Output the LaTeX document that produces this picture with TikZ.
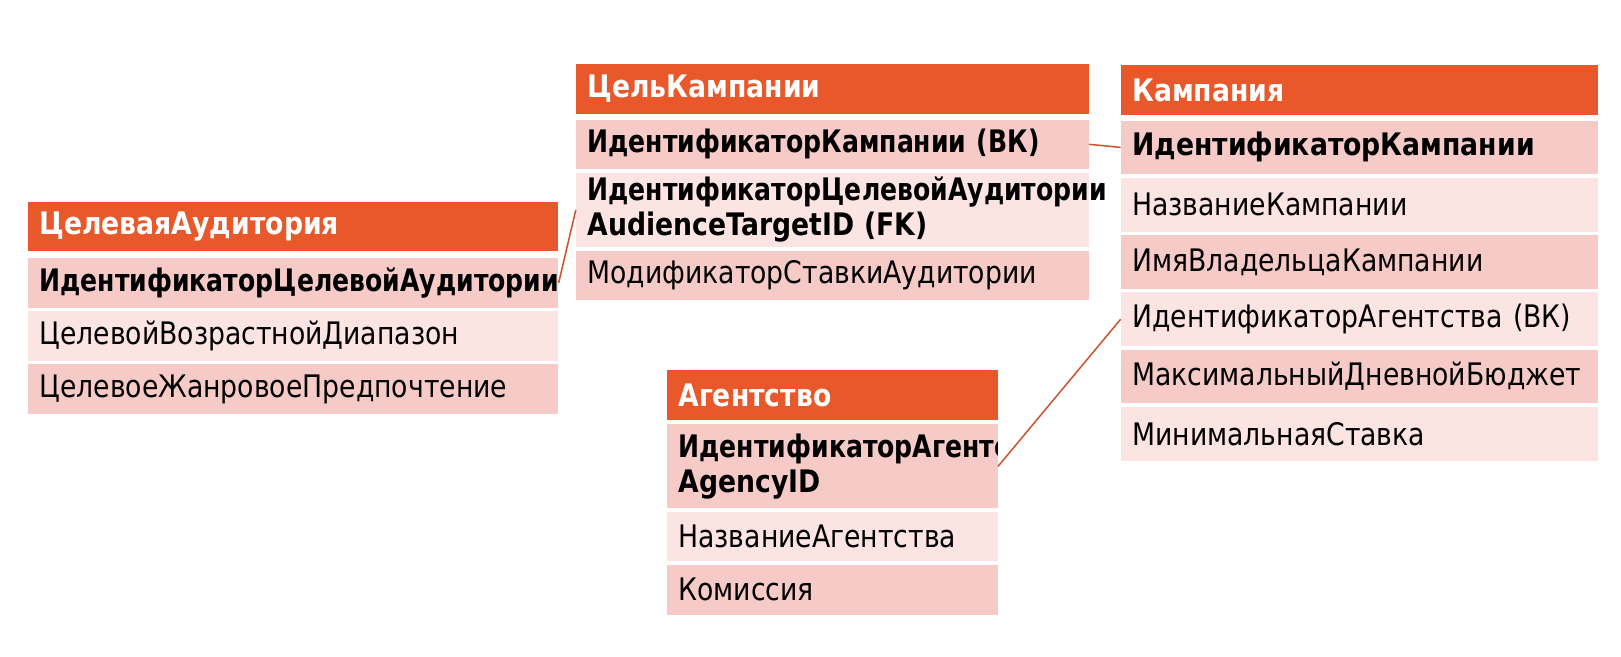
\documentclass[tikz,border=0pt]{standalone}
\usepackage{fontspec}
\setmainfont{DejaVu Sans}[FakeStretch=0.86]
\newfontfamily\narrowkey{DejaVu Sans}[FakeStretch=0.81]
\usetikzlibrary{positioning}
\definecolor{headorange}{HTML}{E8582A}
\definecolor{rowdark}{HTML}{F6CBC7}
\definecolor{rowlight}{HTML}{FBE4E2}
\definecolor{linkline}{HTML}{C9582E}
\newcommand{\fieldfont}{\fontsize{30}{34}\selectfont}
\tikzset{table head/.style={fill=headorange, text=white, font=\fieldfont\bfseries, anchor=north west, minimum height=48pt, inner xsep=11pt, inner ysep=0pt, text width=#1, align=left}}
\tikzset{field/.style={fill=rowdark, text=black, font=\fieldfont, minimum height=48pt, inner xsep=11pt, inner ysep=0pt, text width=#1, align=left}}
\tikzset{light/.style={fill=rowlight}}
\tikzset{key/.style={font=\fieldfont\bfseries}}
\tikzset{narrow key/.style={font=\fieldfont\narrowkey\bfseries}}
\tikzset{relation/.style={draw=linkline, line width=1.5pt}}

\begin{document}
\begin{tikzpicture}[x=1pt, y=1pt]
            \useasboundingbox (0, 0) rectangle (1568, -635);
            % ЦелеваяАудитория
            \node[table head=491pt] (aud) at (27, -195) {ЦелеваяАудитория};
            \node[field=491pt, narrow key, below=6pt of aud] (audId) {ИдентификаторЦелевойАудитории};
            \node[field=491pt, light, below=3pt of audId] (audAge) {ЦелевойВозрастнойДиапазон};
            \node[field=491pt, below=3pt of audAge] (audGenre) {ЦелевоеЖанровоеПредпочтение};
            % ЦельКампании
            \node[table head=474pt] (goal) at (557, -62) {ЦельКампании};
            \node[field=474pt, narrow key, below=5pt of goal] (goalCamp) {ИдентификаторКампании~(ВК)};
            \node[field=474pt, key, light, minimum height=72pt, below=3pt of goalCamp] (goalAud) {{\narrowkey ИдентификаторЦелевойАудитории}\\AudienceTargetID~(FK)};
            \node[field=474pt, below=3pt of goalAud] (goalBid) {МодификаторСтавкиАудитории};
            % Кампания
            \node[table head=440pt] (camp) at (1084, -63) {Кампания};
            \node[field=440pt, key, minimum height=52pt, below=5pt of camp] (campId) {ИдентификаторКампании};
            \node[field=440pt, light, minimum height=52pt, below=3pt of campId] (campName) {НазваниеКампании};
            \node[field=440pt, minimum height=52pt, below=3pt of campName] (campOwner) {ИмяВладельцаКампании};
            \node[field=440pt, light, minimum height=52pt, below=3pt of campOwner] (campAg) {ИдентификаторАгентства~(ВК)};
            \node[field=440pt, minimum height=52pt, below=3pt of campAg] (campBudget) {МаксимальныйДневнойБюджет};
            \node[field=440pt, light, minimum height=52pt, below=3pt of campBudget] (campMin) {МинимальнаяСтавка};
            % Агентство
            \node[table head=298pt] (ag) at (645, -358) {Агентство};
            \node[field=298pt, minimum height=81pt, below=4pt of ag,
                  path picture={\node[anchor=west, inner sep=0pt, minimum height=0pt, text width=500pt, fill=none, align=left, font=\fieldfont\bfseries]
                  at ([xshift=11pt]path picture bounding box.west) {{\narrowkey ИдентификаторАгентства}\\AgencyID};}] (agId) {};
            \node[field=298pt, light, below=3pt of agId] (agName) {НазваниеАгентства};
            \node[field=298pt, below=3pt of agName] (agFee) {Комиссия};
            % связи
            \draw[relation] (audId.east) -- (goalAud.west);
            \draw[relation] (goalCamp.east) -- (campId.west);
            \draw[relation] (agId.east) -- (campAg.west);
        \end{tikzpicture}
\end{document}
